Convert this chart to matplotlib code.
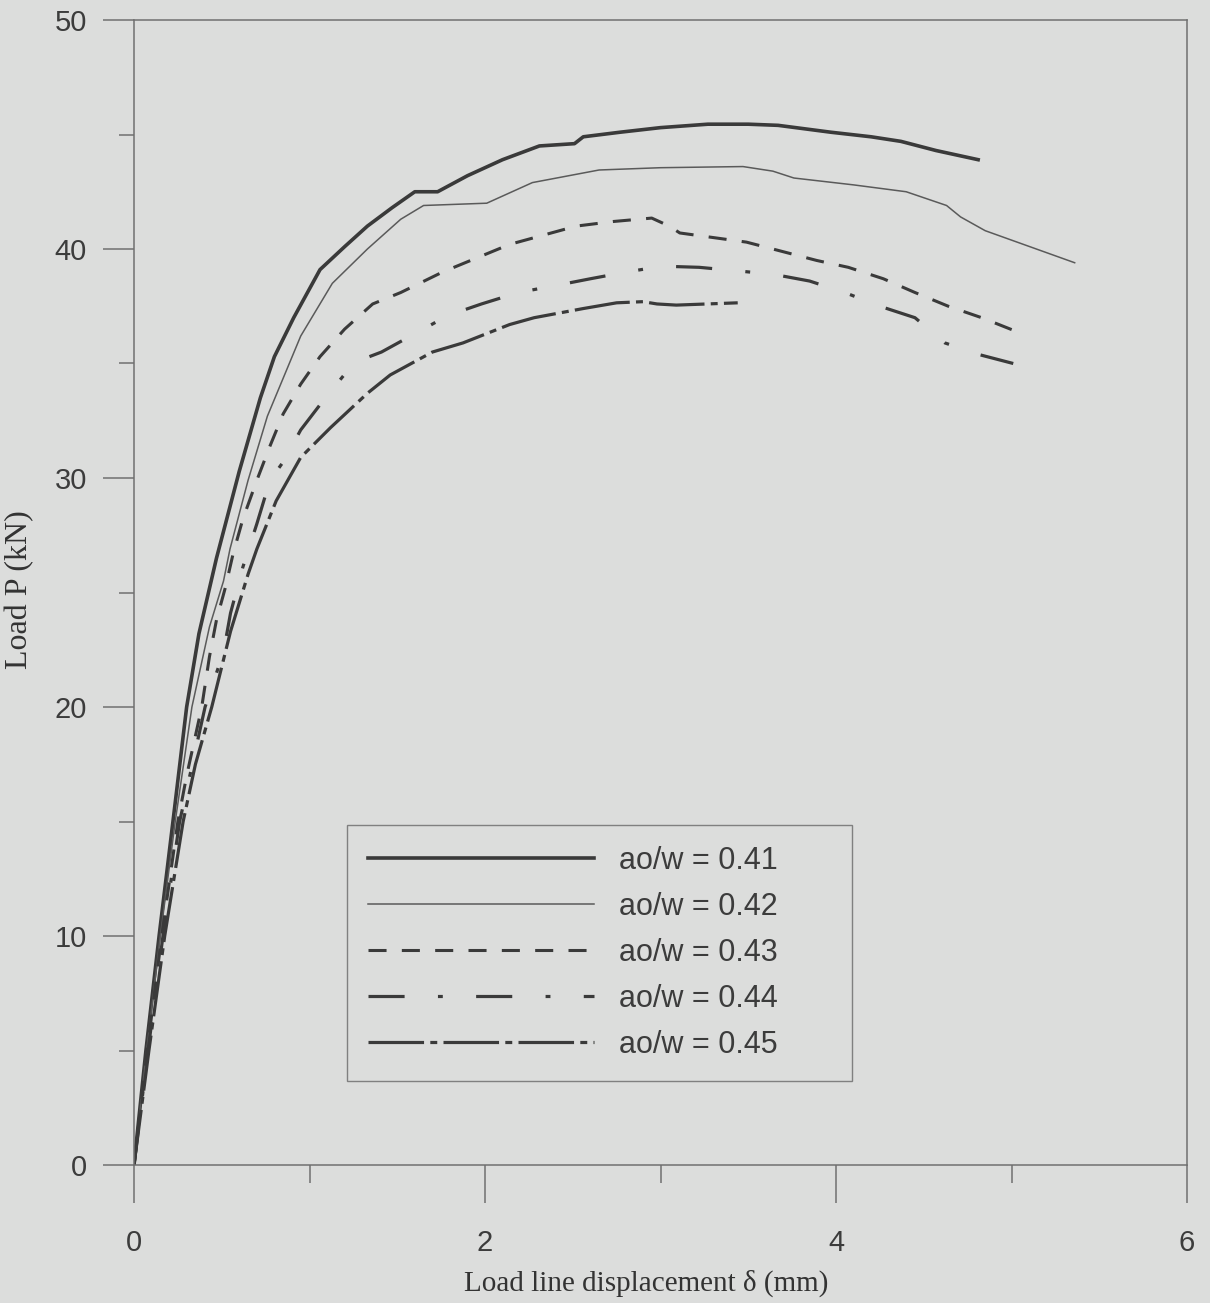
"""Load vs load-line displacement curves for five crack ratios ao/w."""
import matplotlib
matplotlib.use("Agg")
import matplotlib.pyplot as plt
from matplotlib.ticker import MultipleLocator

# --- data (delta mm, P kN) ---
x_041 = [0, 0.068, 0.143, 0.222, 0.30, 0.37, 0.47, 0.60, 0.72, 0.80, 0.91, 1.06, 1.20,
         1.33, 1.47, 1.60, 1.73, 1.90, 2.10, 2.31, 2.51, 2.56, 2.77, 3.00, 3.27, 3.50,
         3.67, 3.97, 4.20, 4.37, 4.57, 4.81]
p_041 = [0, 5, 10, 15, 20, 23.2, 26.5, 30.3, 33.5, 35.3, 37.0, 39.1, 40.1,
         41.0, 41.8, 42.5, 42.5, 43.2, 43.9, 44.5, 44.6, 44.9, 45.1, 45.3, 45.45, 45.45,
         45.4, 45.1, 44.9, 44.7, 44.3, 43.9]

x_042 = [0, 0.072, 0.15, 0.235, 0.33, 0.43, 0.51, 0.547, 0.65, 0.76, 0.95, 1.13, 1.33,
         1.52, 1.65, 2.01, 2.27, 2.65, 3.00, 3.47, 3.64, 3.76, 4.10, 4.40, 4.63, 4.71,
         4.85, 5.36]
p_042 = [0, 5, 10, 15, 20, 23.5, 25.5, 26.9, 29.9, 32.7, 36.2, 38.5, 40.0,
         41.3, 41.9, 42.0, 42.9, 43.45, 43.55, 43.6, 43.4, 43.1, 42.8, 42.5, 41.9, 41.4,
         40.8, 39.4]

x_043 = [0, 0.075, 0.158, 0.25, 0.30, 0.386, 0.43, 0.47, 0.52, 0.565, 0.62, 0.70, 0.775,
         0.85, 0.95, 1.06, 1.20, 1.36, 1.52, 1.76, 1.95, 2.14, 2.33, 2.52, 2.73, 2.95,
         3.05, 3.11, 3.30, 3.49, 3.69, 3.89, 4.07, 4.27, 4.45, 4.64, 4.83, 5.06]
p_043 = [0, 5, 10, 15, 17, 20, 22.2, 23.8, 25.2, 26.7, 28.2, 29.9, 31.4,
         32.8, 34.1, 35.3, 36.5, 37.6, 38.1, 39.0, 39.6, 40.2, 40.6, 41.0, 41.2, 41.35,
         41.0, 40.7, 40.5, 40.3, 39.9, 39.5, 39.2, 38.7, 38.1, 37.5, 37.0, 36.3]

x_044 = [0, 0.08, 0.165, 0.26, 0.405, 0.51, 0.55, 0.62, 0.70, 0.775, 0.85, 0.95, 1.09,
         1.24, 1.29, 1.41, 1.60, 1.79, 1.98, 2.19, 2.40, 2.60, 2.81, 3.01, 3.22, 3.43,
         3.64, 3.85, 4.05, 4.25, 4.45, 4.62, 4.81, 5.01]
p_044 = [0, 5, 10, 15, 20, 22.4, 24.1, 26.1, 28.0, 29.9, 30.7, 32.1, 33.5,
         34.9, 35.15, 35.5, 36.3, 37.1, 37.6, 38.1, 38.4, 38.7, 39.0, 39.25, 39.2, 39.05,
         38.9, 38.6, 38.1, 37.5, 37.0, 35.9, 35.4, 35.0]

x_045 = [0, 0.085, 0.175, 0.28, 0.35, 0.443, 0.55, 0.65, 0.70, 0.81, 0.95, 1.12, 1.33,
         1.46, 1.70, 1.875, 2.14, 2.28, 2.56, 2.75, 2.90, 2.98, 3.09, 3.44]
p_045 = [0, 5, 10, 15, 17.5, 20, 23.3, 25.8, 26.9, 29.0, 30.9, 32.2, 33.7,
         34.5, 35.5, 35.9, 36.7, 37.0, 37.4, 37.65, 37.7, 37.6, 37.55, 37.65]

labels = ["ao/w = 0.41", "ao/w = 0.42", "ao/w = 0.43", "ao/w = 0.44", "ao/w = 0.45"]

BG = "#dcdddc"
INK = "#3a3a3a"

plt.rcParams["lines.scale_dashes"] = False  # dashes in points

fig = plt.figure(figsize=(12.1, 13.03), dpi=100, facecolor=BG)
ax = fig.add_axes([134 / 1210, 1 - 1165 / 1303, 1053 / 1210, 1145 / 1303])
ax.set_facecolor(BG)

ax.plot(x_041, p_041, color=INK, lw=2.6, label=labels[0])
ax.plot(x_042, p_042, color="#5a5a5a", lw=1.1, label=labels[1])
ax.plot(x_043, p_043, color=INK, lw=2.2, dashes=(13, 11), label=labels[2])
ax.plot(x_044, p_044, color=INK, lw=2.3, dashes=(26, 24, 3.5, 24), label=labels[3])
ax.plot(x_045, p_045, color=INK, lw=2.3, dashes=(40, 4.5, 5, 4.5), label=labels[4])

ax.set_xlim(0, 6)
ax.set_ylim(0, 50)
ax.xaxis.set_major_locator(MultipleLocator(2))
ax.xaxis.set_minor_locator(MultipleLocator(1))
ax.yaxis.set_major_locator(MultipleLocator(10))
ax.yaxis.set_minor_locator(MultipleLocator(5))

spine_c = "#707070"
for s in ax.spines.values():
    s.set_color(spine_c)
    s.set_linewidth(1.1)

ax.tick_params(axis="x", which="major", direction="out", length=27, width=1.1,
               color=spine_c, pad=19, labelsize=21, labelcolor="#3c3c3c")
ax.tick_params(axis="x", which="minor", direction="out", length=13, width=1.1,
               color=spine_c)
ax.tick_params(axis="y", which="major", direction="out", length=22, width=1.1,
               color=spine_c, pad=12, labelsize=21, labelcolor="#3c3c3c")
ax.tick_params(axis="y", which="minor", direction="out", length=11, width=1.1,
               color=spine_c)
for t in ax.get_xticklabels() + ax.get_yticklabels():
    t.set_family(["Liberation Sans", "DejaVu Sans"])

fig.text(646 / 1210, 1 - 1283 / 1303, "Load line displacement δ (mm)",
         ha="center", va="center", fontsize=21, color="#333333",
         family=["Liberation Serif", "DejaVu Serif"])
fig.text(20 / 1210, 1 - 590 / 1303, "Load P (kN)", rotation=90,
         ha="center", va="center", fontsize=23, color="#333333",
         family=["Liberation Serif", "DejaVu Serif"])

# legend box spans px 347..852 x 828..1081 in the original
leg = ax.legend(loc="lower left", mode="expand",
                bbox_to_anchor=(0.202, 0.0734, 0.4796, 0.2205), borderaxespad=0,
                fancybox=False, frameon=True, handlelength=7.4, handletextpad=0.8,
                labelspacing=0.52, borderpad=0.7,
                prop={"family": "Liberation Sans", "size": 22})
leg.get_frame().set_facecolor(BG)
leg.get_frame().set_edgecolor("#808080")
leg.get_frame().set_linewidth(1.0)
leg.get_frame().set_alpha(1)
for t in leg.get_texts():
    t.set_color("#3c3c3c")

fig.savefig("out.png", dpi=100, facecolor=BG)
